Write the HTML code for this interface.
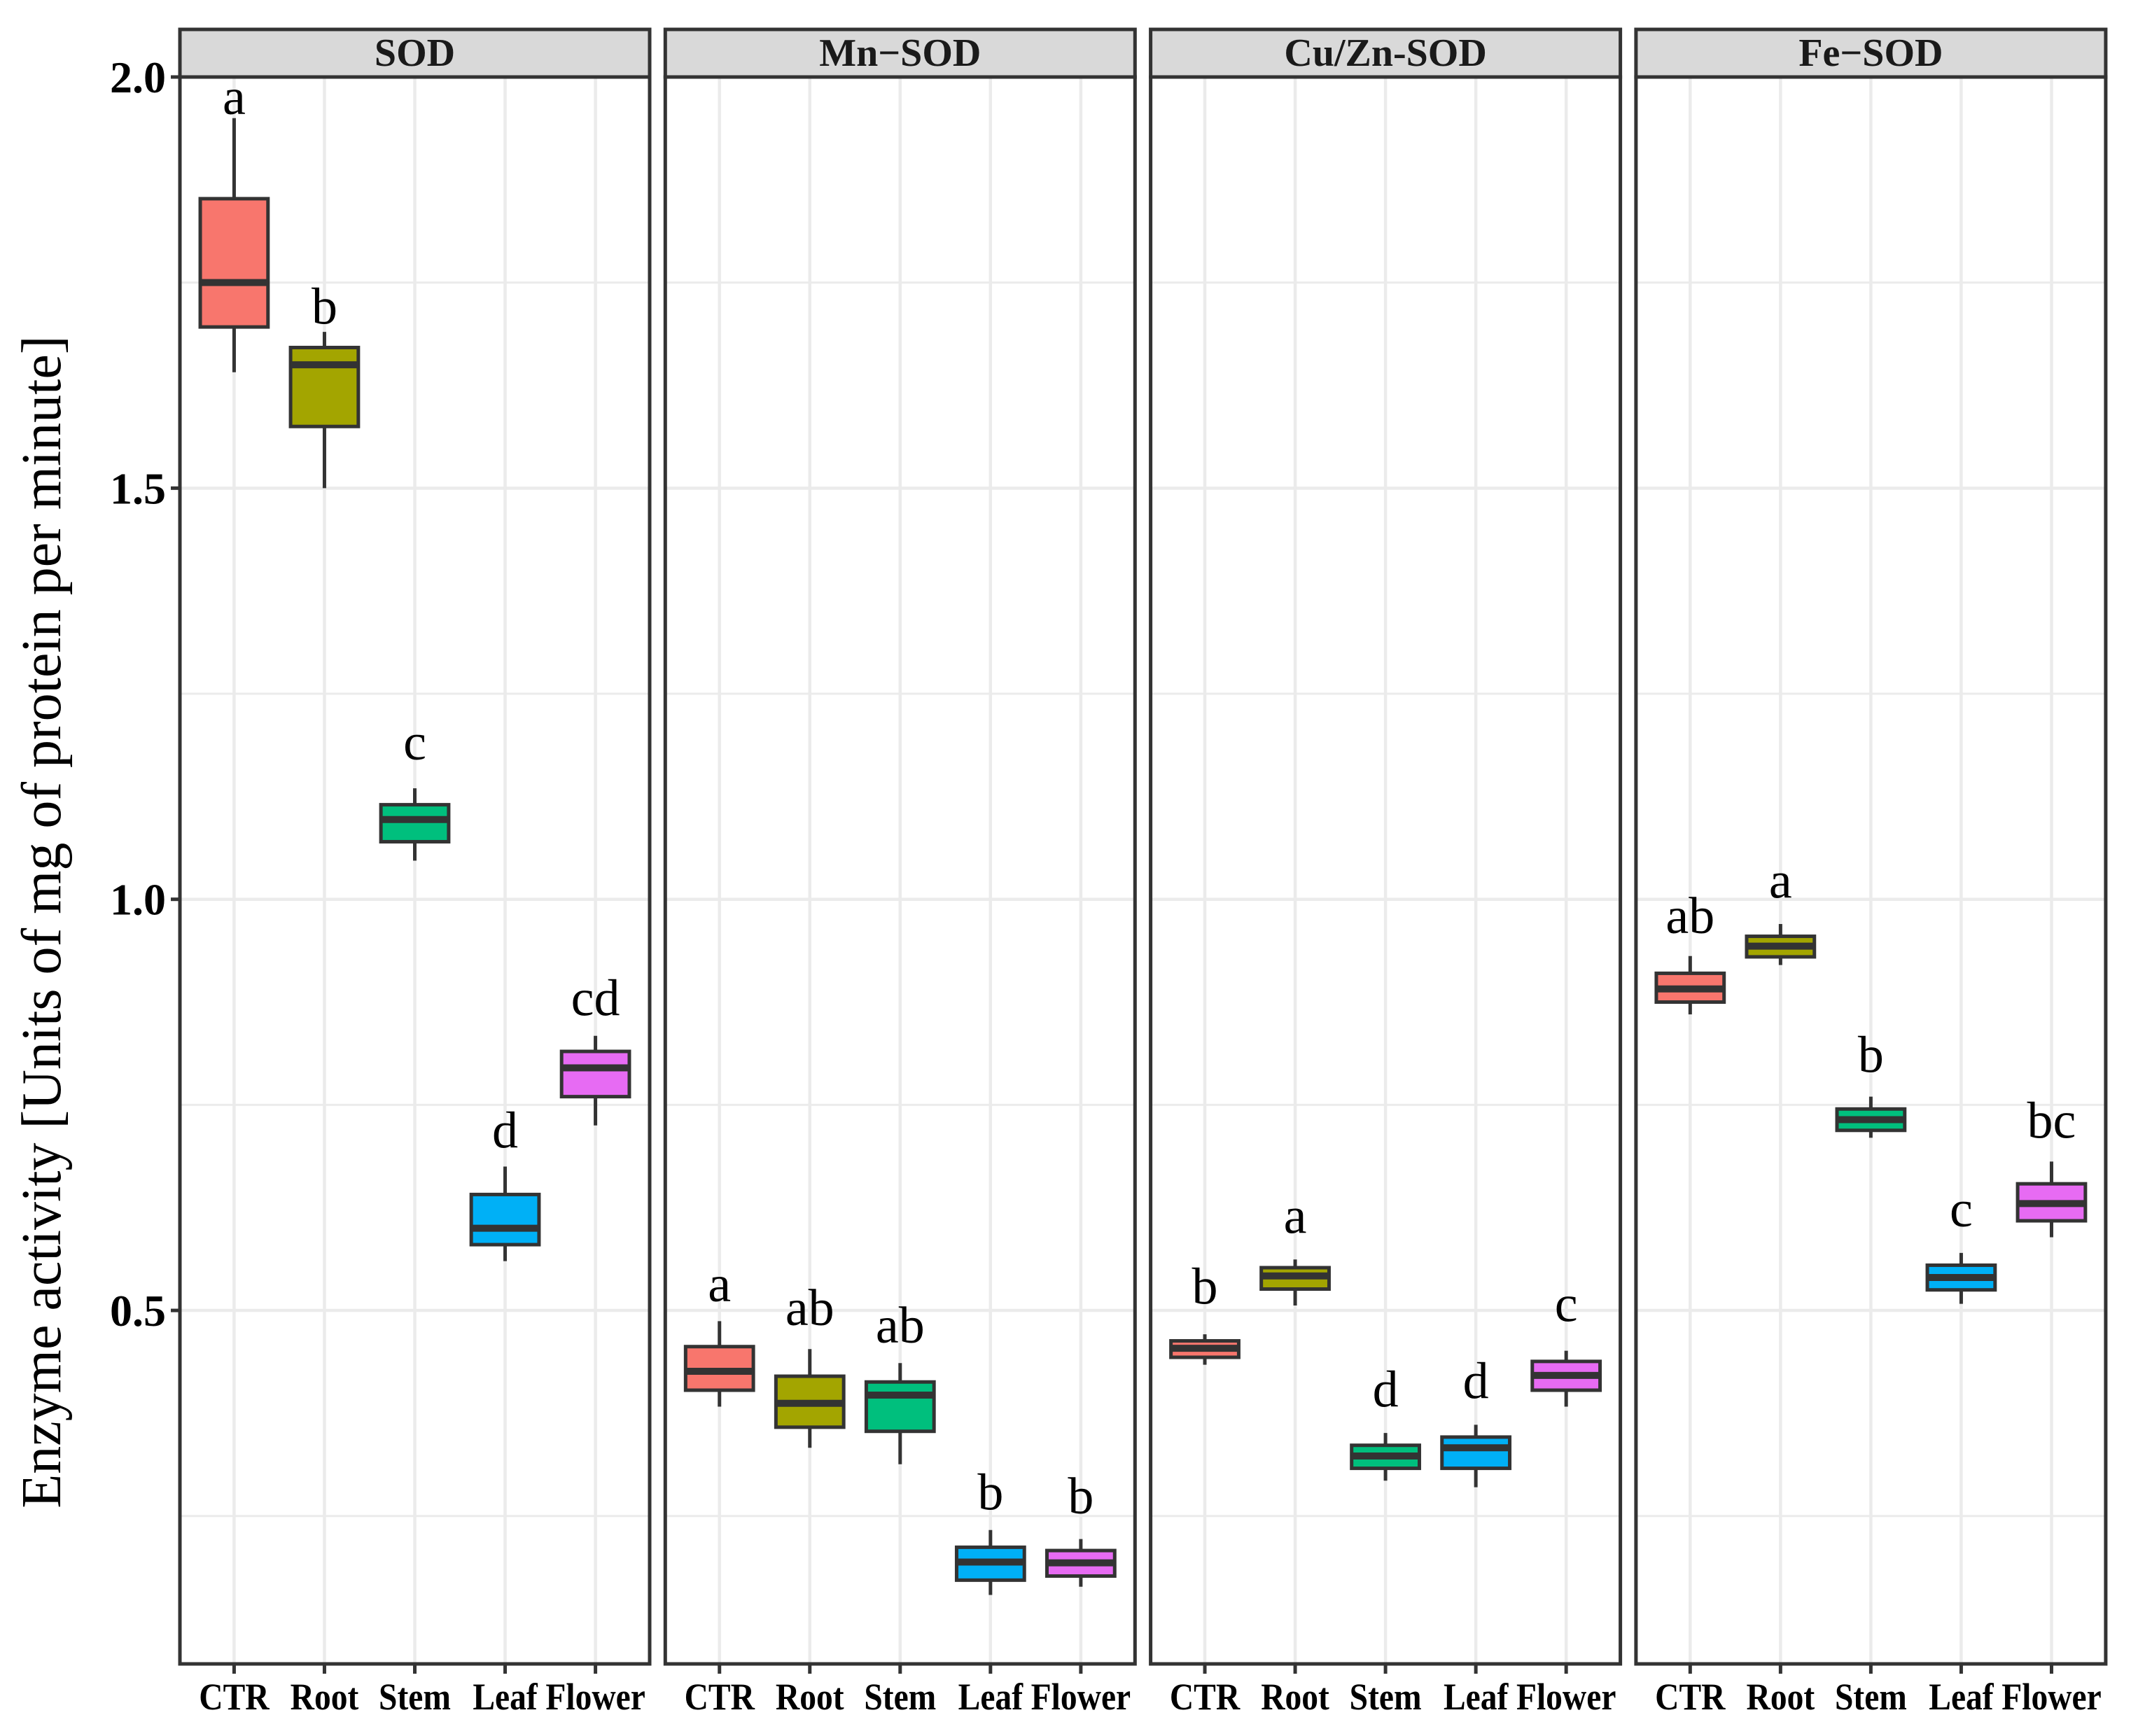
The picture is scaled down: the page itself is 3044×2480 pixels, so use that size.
<!DOCTYPE html>
<html><head><meta charset="utf-8"><style>
html,body{margin:0;padding:0;background:#fff;}
svg{display:block;}
</style></head><body>
<svg id="chart" width="3044" height="2480" viewBox="0 0 3044 2480" xmlns="http://www.w3.org/2000/svg">
<text transform="translate(86,1317) rotate(-90)" text-anchor="middle" font-family="Liberation Serif, serif" font-size="80" fill="#000">Enzyme activity [Units of mg of protein per minute]</text>
</svg>
<script>
const panels = ["SOD","Mn\u2212SOD","Cu/Zn-SOD","Fe\u2212SOD"];
const categories = ["CTR","Root","Stem","Leaf","Flower"];
const yTicks = [0.5,1.0,1.5,2.0];
const yTickLabels = ["0.5","1.0","1.5","2.0"];
const yMinor = [0.25,0.75,1.25,1.75];
const colors = ["#F8766D","#A3A500","#00BF7D","#00B0F6","#E76BF3"];
const sodLow = [1.641,1.50,1.047,0.560,0.725];
const sodQ1 = [1.696,1.575,1.07,0.580,0.76];
const sodMed = [1.75,1.65,1.097,0.600,0.795];
const sodQ3 = [1.852,1.671,1.115,0.641,0.815];
const sodHigh = [1.95,1.69,1.135,0.675,0.834];
const sodLetters = ["a","b","c","d","cd"];
const sodLetterY = [1.955,1.70,1.170,0.698,0.859];
const mnLow = [0.383,0.333,0.313,0.154,0.164];
const mnQ1 = [0.403,0.358,0.353,0.172,0.177];
const mnMed = [0.426,0.387,0.397,0.194,0.193];
const mnQ3 = [0.456,0.420,0.413,0.212,0.208];
const mnHigh = [0.487,0.453,0.436,0.233,0.222];
const mnLetters = ["a","ab","ab","b","b"];
const mnLetterY = [0.511,0.482,0.461,0.258,0.253];
const cuLow = [0.434,0.506,0.293,0.285,0.383];
const cuQ1 = [0.443,0.526,0.308,0.308,0.403];
const cuMed = [0.454,0.542,0.323,0.333,0.421];
const cuQ3 = [0.463,0.552,0.336,0.346,0.438];
const cuHigh = [0.471,0.562,0.351,0.361,0.451];
const cuLetters = ["b","a","d","d","c"];
const cuLetterY = [0.508,0.594,0.383,0.393,0.487];
const feLow = [0.860,0.920,0.710,0.508,0.589];
const feQ1 = [0.875,0.930,0.719,0.525,0.609];
const feMed = [0.891,0.943,0.732,0.540,0.630];
const feQ3 = [0.910,0.955,0.745,0.555,0.654];
const feHigh = [0.931,0.970,0.760,0.570,0.681];
const feLetters = ["ab","a","b","c","bc"];
const feLetterY = [0.959,1.002,0.790,0.602,0.710];

const series = [
 {low:sodLow,q1:sodQ1,med:sodMed,q3:sodQ3,high:sodHigh,let:sodLetters,ly:sodLetterY},
 {low:mnLow,q1:mnQ1,med:mnMed,q3:mnQ3,high:mnHigh,let:mnLetters,ly:mnLetterY},
 {low:cuLow,q1:cuQ1,med:cuMed,q3:cuQ3,high:cuHigh,let:cuLetters,ly:cuLetterY},
 {low:feLow,q1:feQ1,med:feMed,q3:feQ3,high:feHigh,let:feLetters,ly:feLetterY}
];
const svg = document.getElementById('chart');
const NS = 'http://www.w3.org/2000/svg';
const PT = 110, PB = 2377, PW = 671, P0 = 257, PITCH = 693.3;
const yMax = 2.0, yScale = 1174.7;
function y(v){ return PT + (yMax - v) * yScale; }
function mk(tag, attrs, parent){ const e = document.createElementNS(NS, tag); for (const k in attrs) e.setAttribute(k, attrs[k]); (parent||svg).appendChild(e); return e; }
const unit = PW / 5.2;
panels.forEach((name, p) => {
  const L = P0 + p * PITCH, R = L + PW;
  const x = i => L + (i + 0.6) * unit;
  const g = mk('g', {});
  
  
  yMinor.forEach(v => { const l = mk('line', {x1:L,x2:R,y1:y(v),y2:y(v),stroke:'#EBEBEB','stroke-width':3}, g);
      });
  yTicks.forEach(v => { const l = mk('line', {x1:L,x2:R,y1:y(v),y2:y(v),stroke:'#EBEBEB','stroke-width':4.5}, g);
      });
  categories.forEach((c, i) => { const l = mk('line', {x1:x(i),x2:x(i),y1:PT,y2:PB,stroke:'#EBEBEB','stroke-width':4.5}, g);
      });
  const s = series[p];
  const bw = 0.75 * unit;
  categories.forEach((c, i) => {
    const bg = mk('g', {}, g);
    
    
    mk('line', {x1:x(i),x2:x(i),y1:y(s.high[i]),y2:y(s.low[i]),stroke:'#333','stroke-width':5}, bg);
    mk('rect', {x:x(i)-bw/2,y:y(s.q3[i]),width:bw,height:y(s.q1[i])-y(s.q3[i]),fill:colors[i],stroke:'#333','stroke-width':5}, bg);
    mk('line', {x1:x(i)-bw/2,x2:x(i)+bw/2,y1:y(s.med[i]),y2:y(s.med[i]),stroke:'#333','stroke-width':10}, bg);
    const t = mk('text', {x:x(i),y:y(s.ly[i]),'text-anchor':'middle','font-family':'Liberation Serif, serif','font-size':74,fill:'#000'}, g);
    
    
    t.textContent = s.let[i];
    const tk = mk('line', {x1:x(i),x2:x(i),y1:PB,y2:PB+14,stroke:'#333','stroke-width':5}, g);
     
    const tl = mk('text', {x:0,y:0,transform:'translate(' + x(i) + ',2442) scale(0.88,1)','text-anchor':'middle','font-family':'Liberation Serif, serif','font-weight':'bold','font-size':54,fill:'#000'}, g);
    
    
    tl.textContent = c;
  });
  const border = mk('rect', {x:L,y:PT,width:PW,height:PB-PT,fill:'none',stroke:'#333','stroke-width':5}, g);
   
  const strip = mk('rect', {x:L,y:42,width:PW,height:PT-42,fill:'#D9D9D9',stroke:'#333','stroke-width':5}, g);
   
  const st = mk('text', {x:(L+R)/2,y:94,'text-anchor':'middle','font-family':'Liberation Serif, serif','font-weight':'bold','font-size':56,fill:'#1a1a1a'}, g);
   
  st.textContent = name;
});
yTicks.forEach((v, k) => {
  const tk = mk('line', {x1:P0-13,x2:P0,y1:y(v),y2:y(v),stroke:'#333','stroke-width':5});
   
  const t = mk('text', {x:P0-20,y:y(v)+22,'text-anchor':'end','font-family':'Liberation Serif, serif','font-weight':'bold','font-size':64,fill:'#000'});
   
  t.textContent = yTickLabels[k];
});
</script>
</body></html>
